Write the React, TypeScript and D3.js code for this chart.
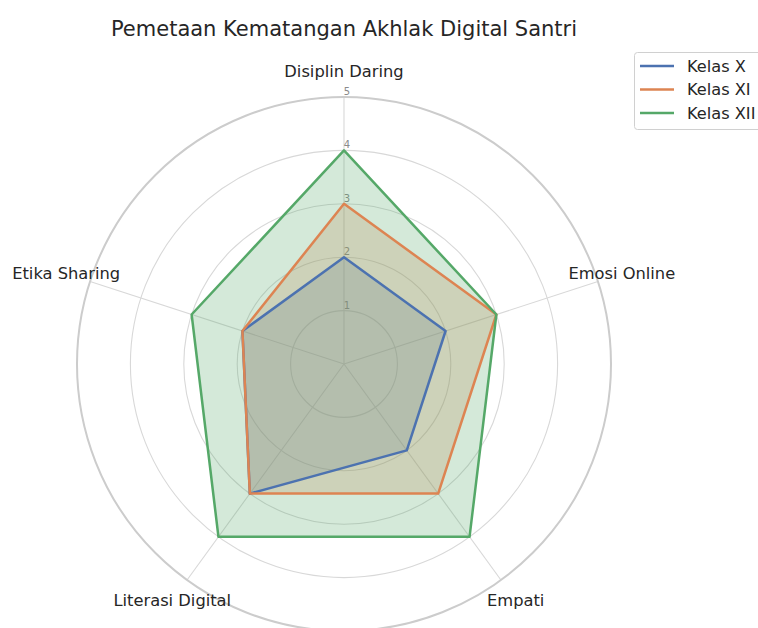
import React from "react";
import * as d3 from "d3";

const categories = ["Disiplin Daring", "Emosi Online", "Empati", "Literasi Digital", "Etika Sharing"];
const seriesNames = ["Kelas X", "Kelas XI", "Kelas XII"];
const kelasX = [2, 2, 2, 3, 2];
const kelasXI = [3, 3, 3, 3, 2];
const kelasXII = [4, 3, 4, 4, 3];
const colors = ["#4c72b0", "#dd8452", "#55a868"];
const ticks = [1, 2, 3, 4, 5];
const title = "Pemetaan Kematangan Akhlak Digital Santri";

export default function App() {
  const W = 758, H = 628;
  const cx = 344, cy = 364;
  const r = d3.scaleLinear().domain([0, 5]).range([0, 267]);
  const n = categories.length;
  const ang = (i: number) => (i * 2 * Math.PI) / n;
  const pt = (i: number, v: number): [number, number] => [
    cx + r(v) * Math.sin(ang(i)),
    cy - r(v) * Math.cos(ang(i)),
  ];
  const series = [kelasX, kelasXI, kelasXII];
  const line = d3.line<[number, number]>().curve(d3.curveLinearClosed);
  const font = "DejaVu Sans, sans-serif";
  return (
    <svg width={W} height={H} style={{ position: "absolute", left: 0, top: 0 }} fontFamily={font}>
      <rect width={W} height={H} fill="#fff" />
      <text x={344} y={36} textAnchor="middle" fontSize={21} fill="#262626">{title}</text>
      {ticks.slice(0, 4).map((t) => (
        <circle key={t} cx={cx} cy={cy} r={r(t)} fill="none" stroke="#d8d8d8" strokeWidth={1.1} />
      ))}
      {categories.map((c, i) => {
        const [x, y] = pt(i, 5);
        return <line key={c} x1={cx} y1={cy} x2={x} y2={y} stroke="#d8d8d8" strokeWidth={1.1} />;
      })}
      <circle cx={cx} cy={cy} r={r(5)} fill="none" stroke="#cccccc" strokeWidth={2} />
      {ticks.map((t) => (
        <text key={t} x={cx + 3} y={cy - r(t) - 2} textAnchor="middle" fontSize={10} fill="#8a8a8a">{t}</text>
      ))}
      {categories.map((c, i) => {
        const [x, y] = pt(i, 5.47);
        return (
          <text key={c} x={x} y={y} textAnchor="middle" dominantBaseline="central" fontSize={16.3} fill="#262626">{c}</text>
        );
      })}
      {series.map((s, k) => {
        const pts = s.map((v, i) => pt(i, v));
        return <path key={"f" + k} d={line(pts) || ""} fill={colors[k]} fillOpacity={0.25} stroke="none" />;
      })}
      {series.map((s, k) => {
        const pts = s.map((v, i) => pt(i, v));
        return (
          <path key={"l" + k} d={line(pts) || ""} fill="none" stroke={colors[k]} strokeWidth={2.5} strokeLinejoin="round" />
        );
      })}
      <g>
        <rect x={634.5} y={52.5} width={140} height={77} rx={3} fill="#fff" stroke="#d0d0d0" strokeWidth={1} />
        {seriesNames.map((s, k) => (
          <g key={s}>
            <line x1={640} x2={674} y1={66 + k * 23.5} y2={66 + k * 23.5} stroke={colors[k]} strokeWidth={2.5} />
            <text x={687} y={66 + k * 23.5} dominantBaseline="central" fontSize={16.2} fill="#262626">{s}</text>
          </g>
        ))}
      </g>
    </svg>
  );
}
